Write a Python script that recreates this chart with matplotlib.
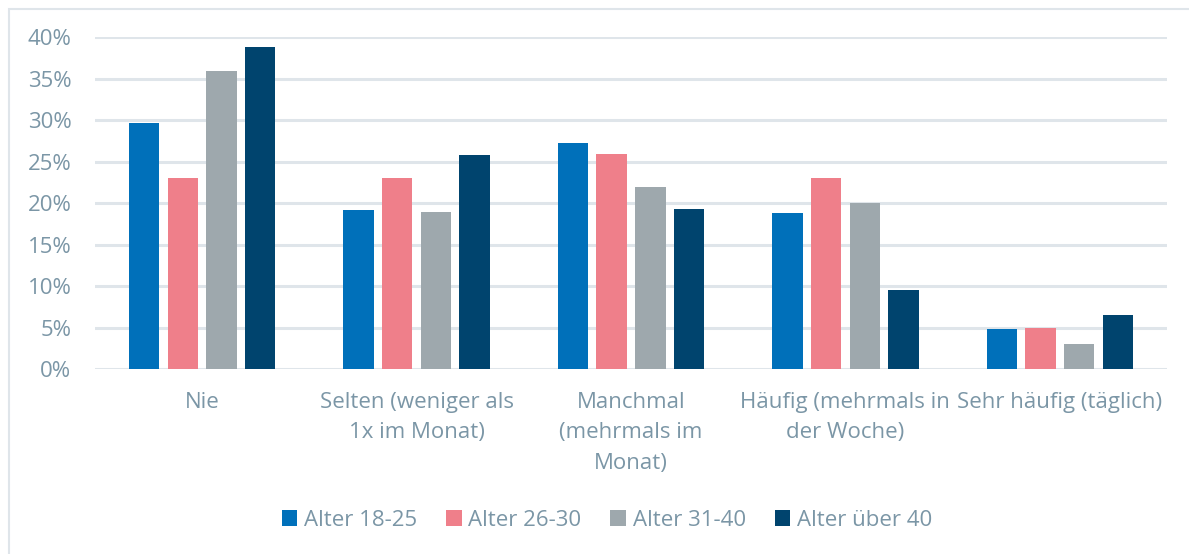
import matplotlib.pyplot as plt
import numpy as np
from matplotlib.patches import Rectangle

categories = [
    "Nie",
    "Selten (weniger als\n1x im Monat)",
    "Manchmal\n(mehrmals im\nMonat)",
    "Häufig (mehrmals in\nder Woche)",
    "Sehr häufig (täglich)",
]
series_names = ["Alter 18-25", "Alter 26-30", "Alter 31-40", "Alter über 40"]
alter_18_25 = [29.7, 19.2, 27.3, 18.8, 4.9]
alter_26_30 = [23.0, 23.0, 26.0, 23.0, 5.0]
alter_31_40 = [36.0, 19.0, 22.0, 20.0, 3.0]
alter_ueber_40 = [38.8, 25.8, 19.3, 9.6, 6.5]
series_values = [alter_18_25, alter_26_30, alter_31_40, alter_ueber_40]
colors = ["#0070BA", "#EF7F8A", "#9EA8AD", "#00446E"]
y_ticks = [0, 5, 10, 15, 20, 25, 30, 35, 40]

text_color = "#7B96A6"
grid_color = "#DFE5EA"
font_size = 16

plt.rcParams["font.family"] = ["Open Sans", "DejaVu Sans"]

W, H = 1189, 554
fig = plt.figure(figsize=(W / 100, H / 100), dpi=100)

# outer frame
fig.patches.append(Rectangle((9 / W, -0.1), 1.2, 1 - 9 / H + 0.1,
                             transform=fig.transFigure, fill=False,
                             edgecolor=grid_color, linewidth=1.5))

ax = fig.add_axes([95 / W, 1 - 369.3 / H, (1167 - 95) / W, (369.3 - 37.3) / H])
ax.set_xlim(0, len(categories))
ax.set_ylim(0, 40)

x = np.arange(len(categories)) + 0.5
pitch = 0.1805
width = 0.142
for i, (name, vals, c) in enumerate(zip(series_names, series_values, colors)):
    ax.bar(x + (i - 1.5) * pitch, vals, width=width, color=c, label=name,
           zorder=3)

ax.set_yticks(y_ticks)
ax.set_yticklabels([f"{v}%" for v in y_ticks])
ax.yaxis.grid(True, color=grid_color, linewidth=2.2, zorder=0)
ax.set_axisbelow(True)
ax.set_xticks(x)
ax.set_xticklabels(categories, linespacing=1.6, va="top")
ax.tick_params(axis="both", length=0, colors=text_color, labelsize=font_size)
ax.tick_params(axis="y", pad=17)
ax.tick_params(axis="x", pad=16)
for s in ax.spines.values():
    s.set_visible(False)

leg = fig.legend(loc="center", bbox_to_anchor=(607 / W, 1 - 520 / H), ncol=4,
                 frameon=False, fontsize=font_size, handlelength=0.7,
                 handleheight=0.7, handletextpad=0.3, columnspacing=1.3,
                 labelcolor=text_color)

fig.savefig("out.png", dpi=100, facecolor="white")
